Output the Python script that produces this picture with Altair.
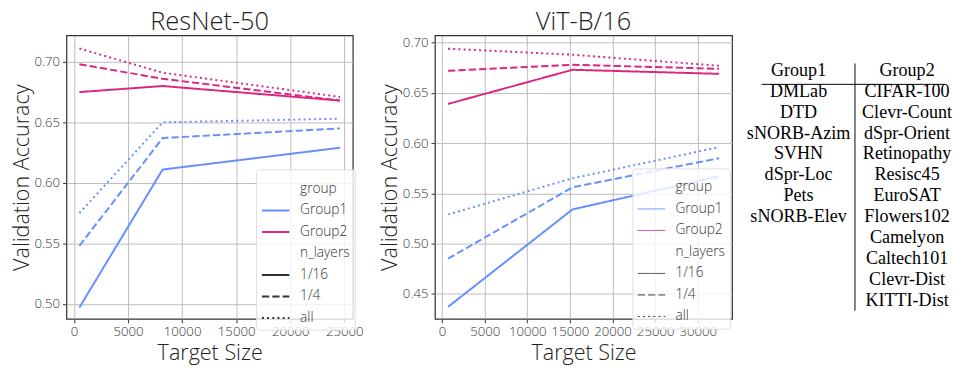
import altair as alt
import pandas as pd

# ---- data -------------------------------------------------------------
groups = ["Group1", "Group2"]
layers = ["1/16", "1/4", "all"]

resnet_sizes = [500, 8200, 24600]
resnet_acc = {
    ("Group1", "1/16"): [0.497, 0.611, 0.629],
    ("Group1", "1/4"): [0.548, 0.637, 0.645],
    ("Group1", "all"): [0.575, 0.650, 0.653],
    ("Group2", "1/16"): [0.675, 0.680, 0.668],
    ("Group2", "1/4"): [0.698, 0.686, 0.668],
    ("Group2", "all"): [0.711, 0.691, 0.671],
}

vit_sizes = [700, 15300, 32500]
vit_acc = {
    ("Group1", "1/16"): [0.437, 0.534, 0.567],
    ("Group1", "1/4"): [0.485, 0.556, 0.585],
    ("Group1", "all"): [0.529, 0.565, 0.596],
    ("Group2", "1/16"): [0.639, 0.673, 0.669],
    ("Group2", "1/4"): [0.672, 0.678, 0.674],
    ("Group2", "all"): [0.694, 0.688, 0.677],
}

group1_tasks = ["DMLab", "DTD", "sNORB-Azim", "SVHN", "dSpr-Loc", "Pets", "sNORB-Elev"]
group2_tasks = ["CIFAR-100", "Clevr-Count", "dSpr-Orient", "Retinopathy", "Resisc45",
                "EuroSAT", "Flowers102", "Camelyon", "Caltech101", "Clevr-Dist", "KITTI-Dist"]

# legend rows: a header row for each variable followed by its levels
legend_keys = ["group"] + groups + ["n_layers"] + layers
key_colors = ["transparent", "#648FFF", "#DC267F", "transparent", "#333333", "#333333", "#333333"]
SOLID, DASHED, DOTTED = [1, 0], [7.4, 3.2], [2, 3.3]
key_dashes = [SOLID, SOLID, SOLID, SOLID, SOLID, DASHED, DOTTED]

SANS = "Open Sans"
SERIF = "Liberation Serif"


def long_frame(sizes, acc):
    rows = []
    for (g, n), vals in acc.items():
        for s, v in zip(sizes, vals):
            rows.append({"size": s, "acc": v, "group": g, "n_layers": n})
    return pd.DataFrame(rows)


def panel(df, title, xdom, ydom, xticks, yticks, width, legend_xy, legend_stroke):
    # color and dash share one domain, so both channels end up in a single legend box
    leg = alt.Legend(title=None, orient="none", legendX=legend_xy[0], legendY=legend_xy[1],
                     symbolStrokeWidth=legend_stroke)
    lines = alt.Chart(df).mark_line(strokeWidth=2, clip=True).encode(
        x=alt.X("size:Q", title="Target Size",
                scale=alt.Scale(domain=xdom, nice=False, zero=False),
                axis=alt.Axis(values=xticks, format="d")),
        y=alt.Y("acc:Q", title="Validation Accuracy",
                scale=alt.Scale(domain=ydom, nice=False, zero=False),
                axis=alt.Axis(values=yticks, format=".2f")),
        color=alt.Color("group:N", scale=alt.Scale(domain=legend_keys, range=key_colors),
                        legend=leg),
        strokeDash=alt.StrokeDash("n_layers:N",
                                  scale=alt.Scale(domain=legend_keys, range=key_dashes),
                                  legend=leg),
        detail="n_layers:N",
    )
    return lines.properties(
        width=width, height=290,
        title=alt.TitleParams(title, fontSize=26, fontWeight=300, font=SANS,
                              color="#222222", anchor="middle", frame="group",
                              baseline="alphabetic", offset=-20),
        view=alt.ViewBackground(stroke="#333333", strokeWidth=1.25),
    )


left = panel(long_frame(resnet_sizes, resnet_acc), "ResNet-50",
             [-696, 25795], [0.4876, 0.7218],
             [0, 5000, 10000, 15000, 20000, 25000],
             [0.50, 0.55, 0.60, 0.65, 0.70], 293, (194, 137), 2)

right = panel(long_frame(vit_sizes, vit_acc), "ViT-B/16",
              [-837, 34025], [0.425, 0.7072],
              [0, 5000, 10000, 15000, 20000, 25000, 30000],
              [0.45, 0.50, 0.55, 0.60, 0.65, 0.70], 304, (202, 136), 1)

# ---- task table ----------------------------------------------------------
cells = [{"col": 0, "row": 0, "txt": "Group1"}, {"col": 1, "row": 0, "txt": "Group2"}]
cells += [{"col": 0, "row": i + 1, "txt": t} for i, t in enumerate(group1_tasks)]
cells += [{"col": 1, "row": i + 1, "txt": t} for i, t in enumerate(group2_tasks)]
cells_df = pd.DataFrame(cells)

tx = alt.Scale(domain=[0, 1], range=[68, 179])
ty = alt.Scale(domain=[0, 11], range=[41.5, 276.3])

table_text = alt.Chart(cells_df).mark_text(
    font=SERIF, fontSize=18.5, baseline="alphabetic", align="center", color="#000000"
).encode(
    x=alt.X("col:Q", scale=tx, axis=None),
    y=alt.Y("row:Q", scale=ty, axis=None),
    text="txt:N",
)

rules_df = pd.DataFrame([
    {"x": 0.52, "x2": 0.52, "y": -0.6, "y2": 11.25},
    {"x": -0.34, "x2": 1.35, "y": 0.4, "y2": 0.4},
])
table_rules = alt.Chart(rules_df).mark_rule(color="#000000", strokeWidth=1).encode(
    x=alt.X("x:Q", scale=tx, axis=None),
    x2="x2:Q",
    y=alt.Y("y:Q", scale=ty, axis=None),
    y2="y2:Q",
)

table = alt.layer(table_rules, table_text).properties(
    width=213, height=290, view=alt.ViewBackground(stroke=None)
)

inner = alt.hconcat(right, table, spacing=0, bounds="flush")
chart = alt.hconcat(left, inner, spacing=84, bounds="flush").resolve_scale(
    color="independent", strokeDash="independent"
).resolve_legend(
    color="independent", strokeDash="independent"
).properties(
    autosize=alt.AutoSizeParams(type="pad"),
    padding={"left": 10, "top": 4, "right": 0, "bottom": 0},
).configure_axis(
    labelFont=SANS, labelFontSize=13.5, labelFontWeight=300, labelColor="#333333",
    titleFont=SANS, titleFontSize=22, titleFontWeight=300, titleColor="#222222",
    grid=True, gridColor="#bbbbbb", gridWidth=1,
    domain=False, ticks=True, tickColor="#333333", tickSize=4, tickWidth=1,
    labelPadding=3,
).configure_axisX(labelPadding=2, titlePadding=5).configure_axisY(titlePadding=1).configure_legend(
    labelFont=SANS, labelFontSize=14, labelFontWeight=300, labelColor="#333333",
    symbolType="stroke", symbolSize=784, rowPadding=-11,
    padding=5, labelOffset=10, fillColor="rgba(255,255,255,0.8)",
    strokeColor="#dddddd", cornerRadius=3,
).configure_view(stroke=None)

chart.save("out.html", embed_options={"renderer": "svg", "actions": False})
